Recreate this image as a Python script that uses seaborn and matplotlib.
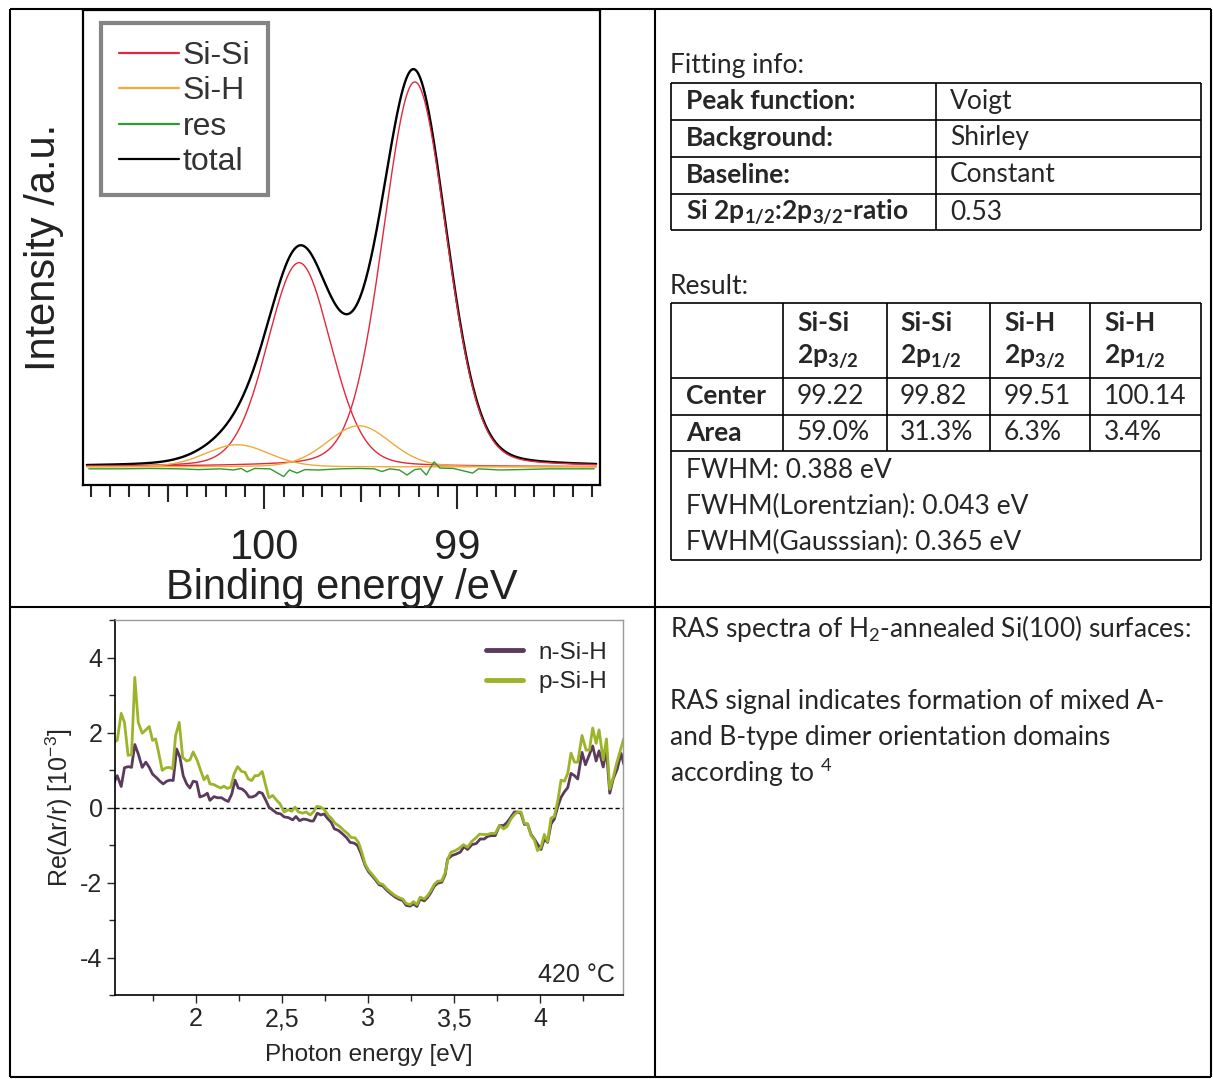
import numpy as np
import seaborn as sns
import matplotlib.pyplot as plt
from matplotlib.ticker import MultipleLocator, FixedLocator, FuncFormatter

# XPS Si 2p fit result (values from the table)
peak_centers = [99.22, 99.82, 99.51, 100.14]
peak_areas = [59.0, 31.3, 6.3, 3.4]
peak_groups = ["Si-Si", "Si-Si", "Si-H", "Si-H"]
peak_levels = ["2p$_{3/2}$", "2p$_{1/2}$", "2p$_{3/2}$", "2p$_{1/2}$"]
fwhm_total = 0.388
fwhm_lorentz = 0.043
fwhm_gauss = 0.365

fit_keys = ["Peak function:", "Background:", "Baseline:", "Si 2p$_{1/2}$:2p$_{3/2}$-ratio"]
fit_vals = ["Voigt", "Shirley", "Constant", "0.53"]

# fit residual
res_energy = [100.91, 100.75, 100.60, 100.44, 100.34, 100.23, 100.16, 100.12, 100.09, 100.05,
              99.97, 99.90, 99.87, 99.83, 99.79, 99.72, 99.61, 99.51, 99.43, 99.39, 99.35,
              99.30, 99.26, 99.22, 99.19, 99.16, 99.14, 99.12, 99.09, 99.02, 98.92, 98.89,
              98.78, 98.68, 98.52, 98.29]
res_value = [-0.005, -0.005, -0.004, -0.005, -0.007, -0.005, -0.008, -0.004, -0.013, -0.004,
             -0.005, -0.025, -0.008, -0.016, -0.007, -0.008, -0.005, -0.004, -0.005, -0.012, -0.005,
             -0.008, -0.021, -0.007, -0.005, -0.021, -0.003, 0.013, -0.003, -0.004, -0.016, -0.005,
             -0.008, -0.007, -0.005, -0.005]

# RAS spectra, 420 °C
n_energy = [1.519, 1.543, 1.566, 1.585, 1.606, 1.626, 1.645, 1.665, 1.688, 1.709, 1.729, 1.748,
            1.772, 1.791, 1.810, 1.830, 1.849, 1.868, 1.888, 1.907, 1.926, 1.946, 1.965, 1.984,
            2.004, 2.023, 2.047, 2.066, 2.081, 2.105, 2.124, 2.149, 2.169, 2.188, 2.208, 2.227,
            2.246, 2.269, 2.289, 2.308, 2.327, 2.347, 2.366, 2.385, 2.405, 2.424, 2.449, 2.469,
            2.492, 2.512, 2.537, 2.562, 2.581, 2.601, 2.624, 2.643, 2.667, 2.682, 2.705, 2.725,
            2.744, 2.766, 2.785, 2.804, 2.827, 2.853, 2.876, 2.895, 2.919, 2.938, 2.957, 2.983,
            3.002, 3.021, 3.041, 3.064, 3.085, 3.109, 3.132, 3.157, 3.182, 3.201, 3.221, 3.244,
            3.263, 3.283, 3.302, 3.326, 3.345, 3.364, 3.384, 3.403, 3.428, 3.448, 3.461, 3.487,
            3.512, 3.535, 3.558, 3.577, 3.603, 3.628, 3.651, 3.674, 3.694, 3.713, 3.738, 3.763,
            3.787, 3.806, 3.830, 3.849, 3.868, 3.888, 3.907, 3.926, 3.946, 3.965, 3.984, 4.004,
            4.023, 4.042, 4.062, 4.081, 4.101, 4.120, 4.140, 4.159, 4.178, 4.198, 4.217, 4.242,
            4.262, 4.285, 4.304, 4.324, 4.341, 4.365, 4.384, 4.403, 4.423, 4.446, 4.469, 4.485]
n_signal = [0.61, 0.85, 0.56, 1.06, 1.09, 1.07, 1.68, 1.43, 1.07, 1.21, 1.07, 0.89,
            0.79, 0.70, 0.63, 0.70, 0.73, 0.72, 1.56, 1.34, 0.85, 0.63, 0.52, 0.70,
            0.68, 0.28, 0.32, 0.38, 0.19, 0.29, 0.26, 0.26, 0.20, 0.16, 0.36, 0.73,
            0.52, 0.49, 0.41, 0.28, 0.28, 0.32, 0.41, 0.38, 0.20, 0.01, -0.08, -0.15,
            -0.17, -0.25, -0.27, -0.33, -0.24, -0.35, -0.31, -0.32, -0.36, -0.36, -0.15, -0.20,
            -0.17, -0.30, -0.39, -0.57, -0.61, -0.71, -0.81, -0.93, -0.95, -1.01, -1.21, -1.55,
            -1.71, -1.81, -1.92, -2.06, -2.09, -2.21, -2.30, -2.39, -2.45, -2.48, -2.61, -2.63,
            -2.57, -2.64, -2.44, -2.49, -2.40, -2.27, -2.10, -2.02, -1.99, -1.78, -1.38, -1.28,
            -1.24, -1.19, -1.04, -1.12, -0.99, -0.96, -0.84, -0.84, -0.77, -0.75, -0.75, -0.48,
            -0.48, -0.40, -0.25, -0.12, -0.12, -0.16, -0.45, -0.44, -0.72, -0.84, -0.98, -1.12,
            -0.84, -0.93, -0.44, -0.31, 0.02, 0.27, 0.42, 0.53, 0.91, 0.85, 0.76, 1.47,
            1.14, 1.41, 1.64, 1.24, 1.51, 1.08, 1.53, 0.38, 0.76, 1.02, 1.44, 1.15]
p_energy = [1.519, 1.543, 1.566, 1.585, 1.606, 1.626, 1.645, 1.665, 1.688, 1.709, 1.729, 1.748,
            1.766, 1.785, 1.804, 1.826, 1.845, 1.865, 1.882, 1.903, 1.923, 1.946, 1.965, 1.984,
            2.008, 2.027, 2.047, 2.066, 2.081, 2.105, 2.124, 2.144, 2.163, 2.182, 2.202, 2.221,
            2.242, 2.266, 2.285, 2.304, 2.324, 2.343, 2.362, 2.385, 2.405, 2.424, 2.446, 2.469,
            2.488, 2.512, 2.537, 2.556, 2.576, 2.595, 2.620, 2.640, 2.663, 2.682, 2.702, 2.725,
            2.746, 2.769, 2.789, 2.808, 2.833, 2.856, 2.880, 2.901, 2.924, 2.944, 2.963, 2.983,
            3.002, 3.021, 3.041, 3.064, 3.085, 3.109, 3.132, 3.157, 3.182, 3.201, 3.221, 3.244,
            3.263, 3.283, 3.302, 3.326, 3.345, 3.364, 3.384, 3.403, 3.428, 3.448, 3.464, 3.481,
            3.506, 3.531, 3.554, 3.577, 3.603, 3.626, 3.647, 3.670, 3.694, 3.713, 3.738, 3.763,
            3.787, 3.806, 3.830, 3.849, 3.868, 3.888, 3.907, 3.926, 3.946, 3.965, 3.984, 4.004,
            4.023, 4.042, 4.062, 4.081, 4.101, 4.120, 4.140, 4.159, 4.178, 4.198, 4.217, 4.242,
            4.266, 4.285, 4.304, 4.324, 4.341, 4.365, 4.384, 4.403, 4.423, 4.442, 4.465, 4.485]
p_signal = [1.74, 1.79, 2.51, 2.27, 1.39, 1.41, 3.47, 2.27, 1.98, 2.07, 2.16, 1.79,
            1.83, 1.43, 0.99, 1.06, 1.07, 1.03, 1.92, 2.27, 1.34, 1.24, 1.27, 1.48,
            1.25, 0.99, 0.74, 0.85, 0.63, 0.61, 0.56, 0.52, 0.57, 0.51, 0.54, 0.89,
            1.09, 0.96, 0.94, 0.76, 0.72, 0.85, 0.85, 0.96, 0.59, 0.26, 0.32, 0.19,
            0.10, -0.12, -0.06, -0.10, 0.01, -0.12, -0.15, -0.12, -0.20, -0.12, 0.03, 0.01,
            -0.06, -0.21, -0.30, -0.42, -0.50, -0.60, -0.69, -0.80, -0.81, -0.93, -1.19, -1.51,
            -1.67, -1.77, -1.88, -2.02, -2.05, -2.17, -2.26, -2.35, -2.41, -2.44, -2.56, -2.59,
            -2.51, -2.59, -2.39, -2.44, -2.35, -2.22, -2.05, -1.97, -1.95, -1.73, -1.36, -1.19,
            -1.15, -1.08, -0.99, -1.06, -0.90, -0.81, -0.71, -0.72, -0.72, -0.69, -0.69, -0.48,
            -0.57, -0.51, -0.30, -0.19, -0.12, -0.12, -0.42, -0.44, -0.75, -0.86, -1.15, -1.06,
            -0.72, -0.91, -0.28, -0.24, 0.17, 0.73, 0.70, 0.91, 1.45, 1.21, 1.21, 1.92,
            1.53, 1.53, 2.12, 1.71, 2.07, 1.27, 1.83, 0.49, 0.80, 1.16, 1.53, 1.85]

ras_text = ["RAS signal indicates formation of mixed A-",
            "and B-type dimer orientation domains",
            "according to $^{4}$"]

sns.set_style("white")
plt.rcParams["font.family"] = ["Liberation Sans", "DejaVu Sans"]
plt.rcParams["mathtext.default"] = "regular"
plt.rcParams["axes.unicode_minus"] = False

W, H = 1213, 1079
fig = plt.figure(figsize=(W / 100, H / 100), dpi=100)

# background layer: table grid and text on the right
bg = fig.add_axes([0, 0, 1, 1])
bg.set_xlim(0, W)
bg.set_ylim(H, 0)
bg.axis("off")
lw_grid = 1.5
bg.hlines([9, 607, 1077], 10, 1211, color="k", lw=lw_grid)
bg.vlines([10, 655, 1211], 9, 1077, color="k", lw=lw_grid)

tf = "Lato"
fs = 19
# fitting info table
bg.text(670, 65, "Fitting info:", fontsize=fs, family=tf, va="center")
bg.hlines([83, 120, 157, 194, 230], 671, 1201, color="k", lw=1.2)
bg.vlines([671, 936, 1201], 83, 230, color="k", lw=1.2)
for i, (k, v) in enumerate(zip(fit_keys, fit_vals)):
    yy = 101 + 37 * i
    bg.text(686, yy, k, fontsize=fs, family=tf, weight="bold", va="center")
    bg.text(950, yy, v, fontsize=fs, family=tf, va="center")

# result table
bg.text(670, 286, "Result:", fontsize=fs, family=tf, va="center")
bg.hlines([303, 378, 415, 451, 560], 671, 1201, color="k", lw=1.2)
bg.vlines([671, 1201], 303, 560, color="k", lw=1.2)
bg.vlines([783, 887, 990, 1090], 303, 451, color="k", lw=1.2)
col_x = [797, 900, 1004, 1104]
for cx, g, lv, c, a in zip(col_x, peak_groups, peak_levels, peak_centers, peak_areas):
    bg.text(cx, 323, g, fontsize=fs, family=tf, weight="bold", va="center")
    bg.text(cx, 357, lv, fontsize=fs, family=tf, weight="bold", va="center")
    bg.text(cx, 396, f"{c:.2f}", fontsize=fs, family=tf, va="center")
    bg.text(cx, 433, f"{a:.1f}%", fontsize=fs, family=tf, va="center")
bg.text(686, 396, "Center", fontsize=fs, family=tf, weight="bold", va="center")
bg.text(686, 433, "Area", fontsize=fs, family=tf, weight="bold", va="center")
bg.text(686, 470, f"FWHM: {fwhm_total:.3f} eV", fontsize=fs, family=tf, va="center")
bg.text(686, 506, f"FWHM(Lorentzian): {fwhm_lorentz:.3f} eV", fontsize=fs, family=tf, va="center")
bg.text(686, 542, f"FWHM(Gausssian): {fwhm_gauss:.3f} eV", fontsize=fs, family=tf, va="center")

# RAS description
bg.text(670, 628, "RAS spectra of H$_2$-annealed Si(100) surfaces:", fontsize=fs, family=tf, va="center")
for i, line in enumerate(ras_text):
    bg.text(670, 701 + 36 * i, line, fontsize=fs, family=tf, va="center")


# ---------- XPS fit ----------
def voigt_shape(x, x0, fg, fl):
    # pseudo-Voigt, peak height 1
    f = (fg**5 + 2.69269 * fg**4 * fl + 2.42843 * fg**3 * fl**2
         + 4.47163 * fg**2 * fl**3 + 0.07842 * fg * fl**4 + fl**5) ** 0.2
    r = fl / f
    eta = 1.36603 * r - 0.47719 * r**2 + 0.11116 * r**3
    sig = f / (2 * np.sqrt(2 * np.log(2)))
    g = np.exp(-(x - x0) ** 2 / (2 * sig**2))
    lor = 1 / (1 + ((x - x0) / (f / 2)) ** 2)
    return eta * lor + (1 - eta) * g


ax1 = fig.add_axes([83 / W, 1 - 485 / H, 517 / W, 475 / H])
energy = np.linspace(98.28, 100.92, 600)
comps = [a / max(peak_areas) * voigt_shape(energy, c, fwhm_gauss, fwhm_lorentz)
         for c, a in zip(peak_centers, peak_areas)]
total = np.sum(comps, axis=0)

colors = {"Si-Si": "#e2283c", "Si-H": "#f2a93b"}
sns.lineplot(x=energy, y=total, color="black", lw=1.7, ax=ax1, label="total")
seen = set()
for comp, g in zip(comps, peak_groups):
    lab = g if g not in seen else "_nolegend_"
    seen.add(g)
    sns.lineplot(x=energy, y=comp, color=colors[g], lw=1.0, ax=ax1, label=lab)
sns.lineplot(x=res_energy, y=res_value, color="#2f9a2f", lw=1.0, ax=ax1, label="res")

ax1.set_xlim(100.94, 98.26)
ax1.set_ylim(-0.047, 1.187)
ax1.set_yticks([])
ax1.xaxis.set_major_locator(FixedLocator([100, 99]))
ax1.xaxis.set_minor_locator(MultipleLocator(0.1))
ax1.tick_params(axis="x", which="major", direction="out", length=17, width=1.5,
                labelsize=30, pad=14, bottom=True, labelcolor="#222222")
ax1.tick_params(axis="x", which="minor", direction="out", length=8.5, width=1.5, bottom=True)
ax1.xaxis.set_major_formatter(FuncFormatter(lambda v, p: f"{v:.0f}"))
sec = ax1.secondary_xaxis("bottom")
sec.set_xticks([100.5, 99.5])
sec.tick_params(direction="out", length=12.5, width=1.5, labelbottom=False)
sec.spines["bottom"].set_visible(False)
for s in ax1.spines.values():
    s.set_color("black")
    s.set_linewidth(1.6)
ax1.set_xlabel("Binding energy /eV", fontsize=30, labelpad=0, color="#222222")
ax1.set_ylabel("Intensity /a.u.", fontsize=30, labelpad=14, color="#222222")

h, l = ax1.get_legend_handles_labels()
order = ["Si-Si", "Si-H", "res", "total"]
hd = dict(zip(l, h))
leg1 = ax1.legend([hd[k] for k in order], order, loc="upper left", bbox_to_anchor=(0.035, 0.972),
                  borderaxespad=0, fontsize=23, frameon=True, fancybox=False,
                  handlelength=1.9, handletextpad=0.1, labelspacing=0.17,
                  borderpad=0.55, labelcolor="#333333")
leg1.get_frame().set_edgecolor("#666666")
leg1.get_frame().set_linewidth(3)
for ln in leg1.get_lines():
    ln.set_linewidth(1.6)

# ---------- RAS ----------
ax2 = fig.add_axes([115 / W, 1 - 995 / H, 508 / W, 375 / H])
sns.lineplot(x=n_energy, y=n_signal, sort=False, estimator=None, color="#5b3a5b", lw=2.0,
             ax=ax2, label="n-Si-H")
sns.lineplot(x=p_energy, y=p_signal, sort=False, estimator=None, color="#9bb42a", lw=2.0,
             ax=ax2, label="p-Si-H")
ax2.axhline(0, color="black", lw=1.0, ls=(0, (3, 2)), zorder=0)
ax2.set_xlim(1.53, 4.48)
ax2.set_ylim(-5, 5)
ax2.xaxis.set_major_locator(MultipleLocator(0.5))
ax2.xaxis.set_minor_locator(MultipleLocator(0.25))
ax2.yaxis.set_major_locator(MultipleLocator(2))
ax2.yaxis.set_minor_locator(MultipleLocator(1))
ax2.xaxis.set_major_formatter(FuncFormatter(lambda v, p: f"{v:g}".replace(".", ",")))
ax2.yaxis.set_major_formatter(FuncFormatter(lambda v, p: f"{v:.0f}"))
ax2.tick_params(which="major", direction="out", length=6, width=1, labelsize=18, pad=3,
                bottom=True, left=True)
ax2.tick_params(which="minor", direction="out", length=4, width=1, bottom=True, left=True)
for side in ["left", "bottom"]:
    ax2.spines[side].set_color("black")
    ax2.spines[side].set_linewidth(1.2)
for side in ["top", "right"]:
    ax2.spines[side].set_color("#999999")
    ax2.spines[side].set_linewidth(1.0)
ax2.set_xlabel("Photon energy [eV]", fontsize=17.5, labelpad=9)
ax2.set_ylabel("Re(\u0394r/r) [10$^{-3}$]", fontsize=18, labelpad=4)
ax2.legend(loc="upper right", bbox_to_anchor=(1.012, 1.0), frameon=False, fontsize=17.5,
           handlelength=1.5, handletextpad=0.65, labelspacing=0.3, borderaxespad=0.5)
for ln in ax2.get_legend().get_lines():
    ln.set_linewidth(3.5)
ax2.text(0.984, 0.053, "420 \u00b0C", transform=ax2.transAxes, ha="right", va="center", fontsize=18)

fig.savefig("out.png", dpi=100)
